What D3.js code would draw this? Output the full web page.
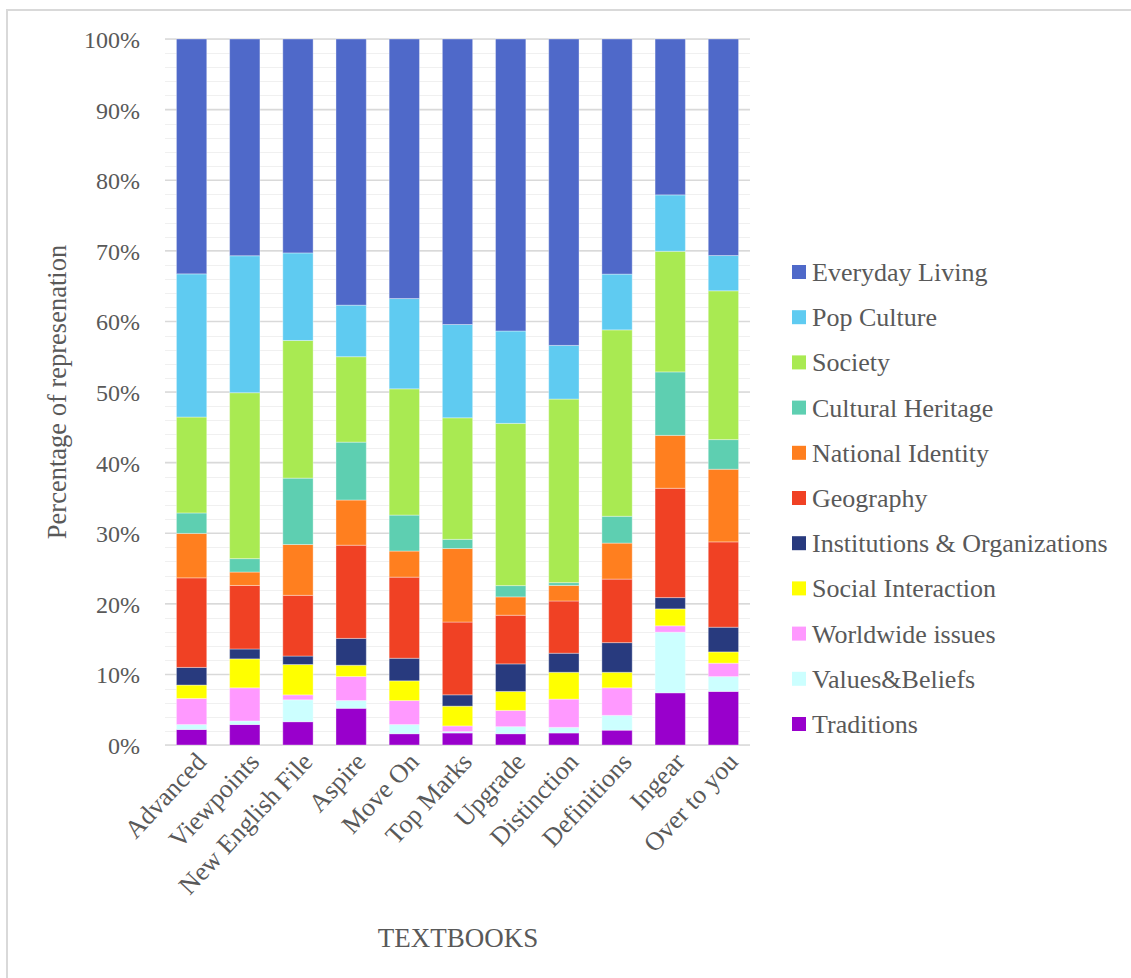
<!DOCTYPE html>
<html>
<head>
<meta charset="utf-8">
<script src="https://cdn.jsdelivr.net/npm/d3@7"></script>
<style>
  body { margin: 0; background: #fff; }
  svg text { font-family: "Liberation Serif", "Times New Roman", serif; fill: #595959; }
</style>
</head>
<body>
<div id="chart"></div>
<script>
// Textbooks on the x axis
const textbooks = ["Advanced", "Viewpoints", "New English File", "Aspire", "Move On", "Top Marks",
  "Upgrade", "Distinction", "Definitions", "Ingear", "Over to you"];

// Share of each category per textbook (%), bottom of stack first
const traditions   = [2.2, 2.9, 3.3, 5.2, 1.6, 1.7, 1.6, 1.7, 2.1, 7.4, 7.6];
const valuesBeliefs = [0.7, 0.5, 3.1, 1.1, 1.3, 0.2, 1.0, 0.8, 2.1, 8.6, 2.1];
const worldwide    = [3.7, 4.7, 0.7, 3.4, 3.4, 0.8, 2.3, 4.0, 3.9, 0.9, 1.9];
const socialInt    = [1.9, 4.1, 4.3, 1.6, 2.8, 2.8, 2.7, 3.8, 2.2, 2.4, 1.6];
const institutions = [2.5, 1.4, 1.2, 3.8, 3.2, 1.6, 3.9, 2.7, 4.2, 1.6, 3.5];
const geography    = [12.7, 9.0, 8.6, 13.2, 11.5, 10.3, 6.9, 7.4, 9.0, 15.5, 12.1];
const national     = [6.3, 1.9, 7.2, 6.4, 3.7, 10.4, 2.6, 2.2, 5.1, 7.5, 10.3];
const cultural     = [2.9, 1.9, 9.4, 8.2, 5.1, 1.3, 1.6, 0.4, 3.8, 9.0, 4.2];
const society      = [13.6, 23.5, 19.5, 12.1, 17.9, 17.2, 23.0, 26.0, 26.4, 17.1, 21.1];
const popCulture   = [20.3, 19.4, 12.4, 7.3, 12.8, 13.2, 13.1, 7.6, 7.9, 8.0, 5.0];
const everyday     = [33.3, 30.7, 30.3, 37.7, 36.8, 40.4, 41.4, 43.4, 33.3, 22.1, 30.7];

const categories = ["Traditions", "Values&Beliefs", "Worldwide issues", "Social Interaction",
  "Institutions & Organizations", "Geography", "National Identity", "Cultural Heritage",
  "Society", "Pop Culture", "Everyday Living"];
const seriesValues = [traditions, valuesBeliefs, worldwide, socialInt, institutions, geography,
  national, cultural, society, popCulture, everyday];
const colors = ["#9900cc", "#ccffff", "#ff99ff", "#ffff00", "#283a7e", "#f04124",
  "#ff7f1f", "#5ecfb1", "#a9ea52", "#5fcbf1", "#4f69c9"];

const yTicks = [0, 0.1, 0.2, 0.3, 0.4, 0.5, 0.6, 0.7, 0.8, 0.9, 1];
const minorTicks = d3.range(0, 1.0001, 0.02);

// build rows for d3.stack
const rows = textbooks.map((t, i) => {
  const r = { textbook: t };
  categories.forEach((c, j) => { r[c] = seriesValues[j][i]; });
  return r;
});

const W = 1131, H = 978;
const plot = { left: 165, right: 750, top: 39, bottom: 745 };

const svg = d3.select("#chart").append("svg")
  .attr("width", W).attr("height", H);

// chart border
svg.append("rect")
  .attr("x", 7).attr("y", 10)
  .attr("width", W + 20).attr("height", H + 20)
  .attr("fill", "none").attr("stroke", "#d9d9d9").attr("stroke-width", 2);

const x = d3.scaleBand().domain(textbooks)
  .range([plot.left, plot.right]).paddingInner(0.43).paddingOuter(0.215);
const y = d3.scaleLinear().domain([0, 1]).range([plot.bottom, plot.top]);
const color = d3.scaleOrdinal().domain(categories).range(colors);

// gridlines
svg.append("g").selectAll("line").data(minorTicks).enter().append("line")
  .attr("x1", plot.left).attr("x2", plot.right)
  .attr("y1", d => Math.round(y(d)) + 0.5).attr("y2", d => Math.round(y(d)) + 0.5)
  .attr("stroke", "#f0f0f0").attr("stroke-width", 1.2);
svg.append("g").selectAll("line").data(yTicks).enter().append("line")
  .attr("x1", plot.left).attr("x2", plot.right)
  .attr("y1", d => y(d)).attr("y2", d => y(d))
  .attr("stroke", "#d9d9d9").attr("stroke-width", 1.5);

// stacked bars
const stacked = d3.stack().keys(categories).offset(d3.stackOffsetExpand)(rows);

svg.append("g").selectAll("g").data(stacked).enter().append("g")
  .attr("fill", d => color(d.key))
  .selectAll("rect").data(d => d).enter().append("rect")
  .attr("x", d => x(d.data.textbook))
  .attr("width", x.bandwidth())
  .attr("y", d => y(d[1]))
  .attr("height", d => y(d[0]) - y(d[1]))
  .attr("stroke", "rgba(255,255,255,0.35)")
  .attr("stroke-width", 1);

// y axis
const yAxis = svg.append("g")
  .attr("transform", `translate(${plot.left},0)`)
  .call(d3.axisLeft(y).tickValues(yTicks).tickFormat(d3.format(".0%")).tickSize(0).tickPadding(25));
yAxis.select(".domain").remove();
yAxis.selectAll("text")
  .style("font-size", "24px")
  .style("font-family", "Liberation Serif, serif")
  .attr("fill", "#595959")
  .attr("dy", "0.35em");

// x axis labels
const xAxis = svg.append("g")
  .attr("transform", `translate(0,${plot.bottom})`)
  .call(d3.axisBottom(x).tickSize(0).tickPadding(0));
xAxis.select(".domain").remove();
xAxis.selectAll("text")
  .style("font-size", "26px")
  .style("font-family", "Liberation Serif, serif")
  .attr("fill", "#595959")
  .attr("text-anchor", "end")
  .attr("dy", 0)
  .attr("y", 0)
  .attr("transform", "translate(16,18) rotate(-47)");

// axis titles
svg.append("text")
  .attr("transform", `translate(66,${(plot.top + plot.bottom) / 2}) rotate(-90)`)
  .attr("text-anchor", "middle")
  .style("font-size", "26.5px")
  .text("Percentage of represenation");

svg.append("text")
  .attr("x", 458).attr("y", 947)
  .attr("text-anchor", "middle")
  .style("font-size", "27px")
  .text("TEXTBOOKS");

// legend (top category first)
const legendItems = categories.slice().reverse();
const legend = svg.append("g").attr("transform", "translate(792,265)");
const li = legend.selectAll("g").data(legendItems).enter().append("g")
  .attr("transform", (d, i) => `translate(0,${i * 45.2})`);
li.append("rect").attr("width", 14).attr("height", 14).attr("fill", d => color(d));
li.append("text").attr("x", 20).attr("y", 16)
  .style("font-size", "26px")
  .text(d => d);
</script>
</body>
</html>
